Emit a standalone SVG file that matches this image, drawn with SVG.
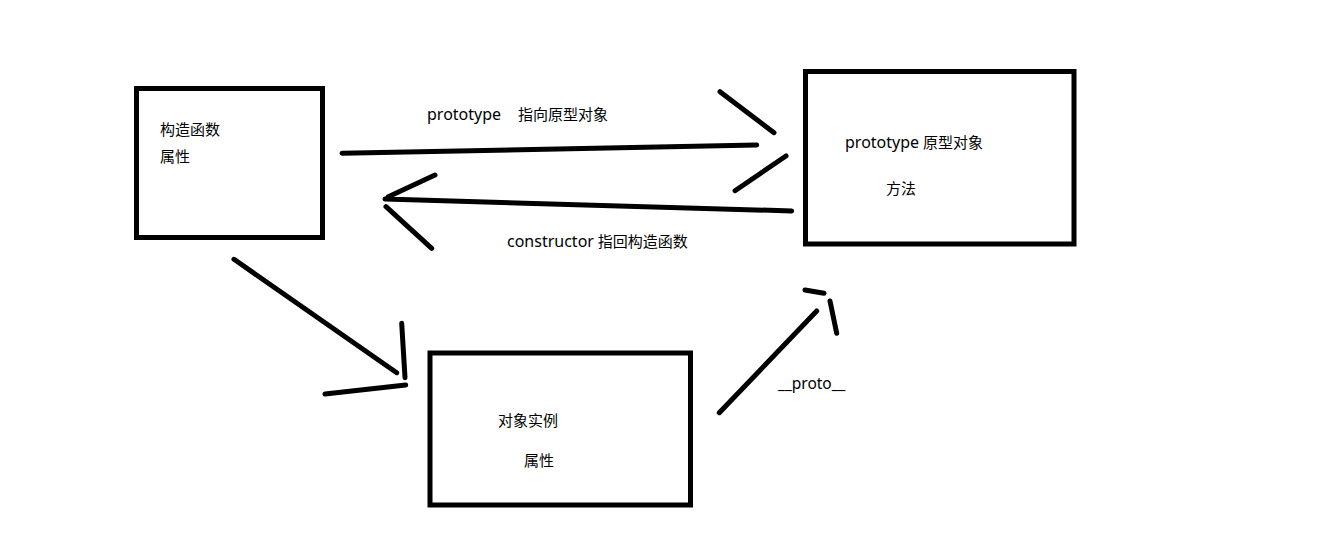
<svg xmlns="http://www.w3.org/2000/svg" width="1344" height="538" viewBox="0 0 1344 538">
<style>
.box{fill:none;stroke:#000;stroke-width:5}
.ln{fill:none;stroke:#000;stroke-width:5;stroke-linecap:round}
text{font-family:"Noto Sans","Noto Sans CJK SC",sans-serif;font-size:15px;fill:#000}
.lat{font-size:16px}
</style>
<rect width="1344" height="538" fill="#fff"/>
<g id="constructor">
<rect class="box" x="136.5" y="88.5" width="186" height="149"/>
<text x="160" y="135">构造函数</text>
<text x="160" y="162">属性</text>
</g>
<g id="prototype">
<rect class="box" x="805.5" y="71.5" width="268.5" height="172.5"/>
<text x="845" y="148"><tspan class="lat">prototype</tspan> 原型对象</text>
<text x="886" y="194">方法</text>
</g>
<g id="instance">
<rect class="box" x="430" y="353" width="260.5" height="152"/>
<text x="498" y="426">对象实例</text>
<text x="524" y="466">属性</text>
</g>
<g id="connectors">
<path class="ln" d="M342 153.3L756.7 145M720 91.7L774 132.7M786 156L735 190.7"/>
<text x="427" y="120" class="lat">prototype</text>
<text x="518" y="120">指向原型对象</text>
<path class="ln" d="M791.7 211L385 199M435 175L388.3 196.7M386 206.7L431.7 248.3"/>
<text x="507" y="247"><tspan class="lat">constructor</tspan> 指回构造函数</text>
<path class="ln" d="M234 259.3L396.7 372.7M401.7 323.3L405 377.7M325 394L405.7 385"/>
<path class="ln" d="M719.3 412.7L816.7 311M805 290L824 293.3M830 301L836.7 333.3"/>
<text x="778" y="389" style="font-size:15.5px">__proto__</text>
</g>
</svg>
